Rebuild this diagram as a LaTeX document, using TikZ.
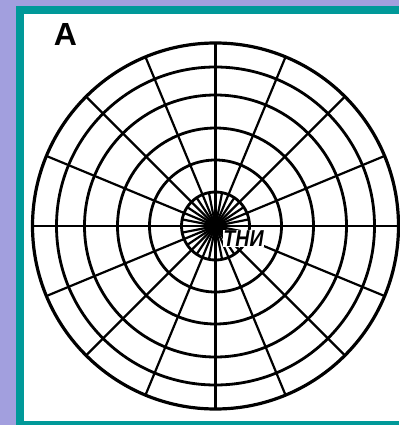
\documentclass[tikz,border=0pt]{standalone}
\usepackage{fontspec}
\usepackage{xcolor}
\setmainfont{Liberation Sans}
\definecolor{lavbg}{HTML}{A29FDE}
\definecolor{tealframe}{HTML}{009999}

\begin{document}
\begin{tikzpicture}[x=1pt,y=-1pt,
    ring/.style={line width=2.8pt},
    spoke/.style={line width=2.2pt},
    tag/.style={inner sep=0.5pt,font=\bfseries}]
    % frame
    \fill[lavbg] (0,0) rectangle (399,425);
    \fill[tealframe] (16,6) rectangle (399,425);
    \fill[white] (24,14) rectangle (399,421);
    \useasboundingbox (0,0) rectangle (399,425);
    \coordinate (c) at (215.5,226);
    % rings
    \foreach \r in {34,66,98,131,159} \draw[ring] (c) circle (\r pt);
    \draw[ring,line width=3.2pt] (c) circle (183pt);
    % spokes
    \foreach \a in {0,22.5,...,337.5} \draw[spoke] (c) -- ++(\a:183pt);
    \foreach \a in {11.25,33.75,...,348.75} \draw[spoke] (c) -- ++(\a:34pt);
    \fill (c) circle (7pt);
    \node[tag] (labA) at (65.5,34.5) {\fontsize{32}{32}\selectfont A};
    \node[tag,fill=white] (labT) at (243.5,238.5) {\scalebox{0.85}[1]{\fontsize{23}{23}\selectfont\itshape ТНИ}};
\end{tikzpicture}
\end{document}
